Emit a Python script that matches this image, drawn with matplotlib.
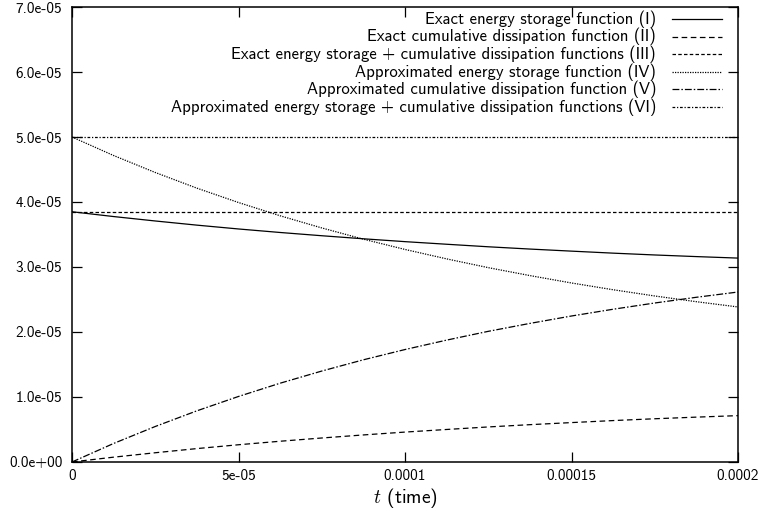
import matplotlib
matplotlib.use("Agg")
import matplotlib.pyplot as plt

plt.rcParams["font.family"] = ["cmss10", "DejaVu Sans"]
plt.rcParams["mathtext.fontset"] = "cm"
plt.rcParams["axes.unicode_minus"] = False

# time (s)
t = [0, 12.5e-6, 25e-6, 37.5e-6, 50e-6, 62.5e-6, 75e-6, 87.5e-6, 100e-6,
     112.5e-6, 125e-6, 137.5e-6, 150e-6, 162.5e-6, 175e-6, 187.5e-6, 200e-6]

# values in units of 1e-5
exact_storage = [3.850, 3.776, 3.708, 3.644, 3.585, 3.531, 3.481, 3.434, 3.390,
                 3.350, 3.311, 3.276, 3.244, 3.213, 3.185, 3.160, 3.137]
exact_dissip = [0.000, 0.074, 0.142, 0.206, 0.265, 0.319, 0.369, 0.416, 0.460,
                0.500, 0.539, 0.574, 0.606, 0.637, 0.665, 0.690, 0.713]
exact_total = [3.85] * 17
approx_storage = [5.000, 4.715, 4.454, 4.213, 3.992, 3.788, 3.601, 3.428, 3.270,
                  3.125, 2.990, 2.868, 2.754, 2.650, 2.554, 2.466, 2.385]
approx_dissip = [0.000, 0.285, 0.546, 0.787, 1.008, 1.212, 1.399, 1.572, 1.730,
                 1.875, 2.010, 2.132, 2.246, 2.350, 2.446, 2.534, 2.615]
approx_total = [5.0] * 17

labels = [
    "Exact energy storage function (I)",
    "Exact cumulative dissipation function (II)",
    "Exact energy storage + cumulative dissipation functions (III)",
    "Approximated energy storage function (IV)",
    "Approximated cumulative dissipation function (V)",
    "Approximated energy storage + cumulative dissipation functions (VI)",
]
series = [exact_storage, exact_dissip, exact_total,
          approx_storage, approx_dissip, approx_total]
dashes = [(), (4.5, 2.8), (2.8, 1.8), (1, 1), (5.5, 1.6, 1.2, 1.6), (2.2, 1.4, 1, 1.4)]

xticks = [0, 5e-5, 1e-4, 1.5e-4, 2e-4]
xtick_labels = ["0", "5e-05", "0.0001", "0.00015", "0.0002"]
yticks = [0, 1e-5, 2e-5, 3e-5, 4e-5, 5e-5, 6e-5, 7e-5]
ytick_labels = ["0.0e+00", "1.0e-05", "2.0e-05", "3.0e-05",
                "4.0e-05", "5.0e-05", "6.0e-05", "7.0e-05"]

fig = plt.figure(figsize=(7.62, 5.16), dpi=100)
ax = fig.add_axes([0.0945, 0.1047, 0.874, 0.8817])

for vals, d in zip(series, dashes):
    y = [v * 1e-5 for v in vals]
    line, = ax.plot(t, y, color="black", lw=0.9)
    if d:
        line.set_dashes(d)

ax.set_xlim(0, 2e-4)
ax.set_ylim(0, 7e-5)
ax.set_xticks(xticks)
ax.set_xticklabels(xtick_labels)
ax.set_yticks(yticks)
ax.set_yticklabels(ytick_labels)
ax.tick_params(direction="in", length=7, width=0.9, labelsize=11,
               top=True, right=True)
ax.tick_params(axis="y", pad=7)
ax.tick_params(axis="x", pad=5)
for s in ax.spines.values():
    s.set_linewidth(1.1)

ax.set_xlabel("$t$ (time)", fontsize=14, labelpad=2)

# gnuplot-style key: right-justified text with sample to the right
row_y = [0.9736, 0.9349, 0.8963, 0.8576, 0.8189, 0.7802]
for lab, d, ry in zip(labels, dashes, row_y):
    ax.text(0.877, ry, lab, transform=ax.transAxes, ha="right", va="center",
            fontsize=12)
    ln, = ax.plot([0.901, 0.976], [ry, ry], transform=ax.transAxes,
                  color="black", lw=0.9)
    if d:
        ln.set_dashes(d)

plt.savefig("out.png", dpi=100)
